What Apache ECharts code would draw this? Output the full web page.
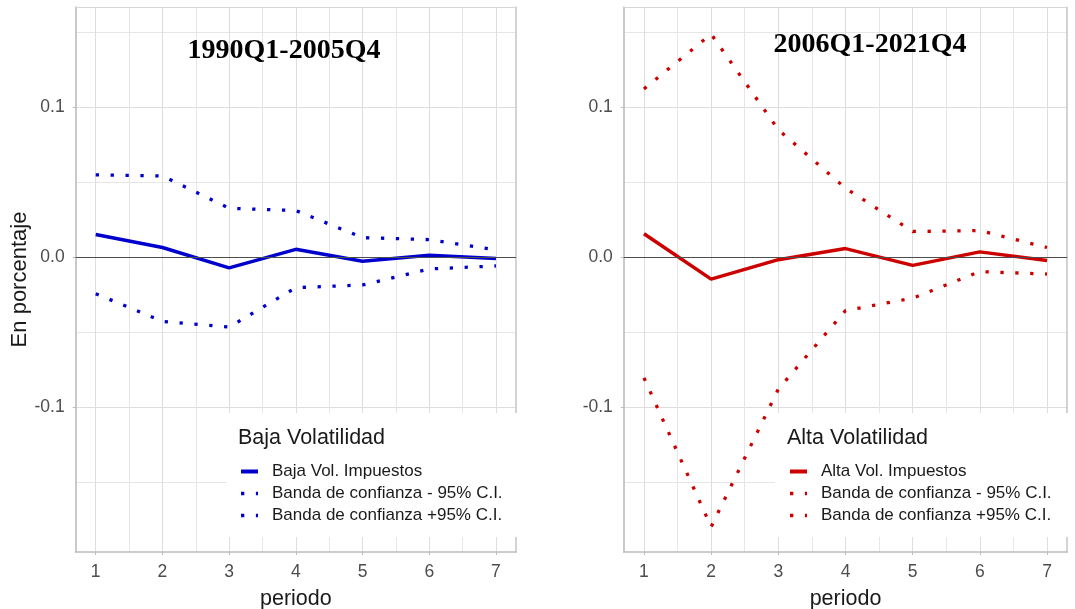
<!DOCTYPE html>
<html><head><meta charset="utf-8">
<script src="https://cdn.jsdelivr.net/npm/echarts@6/dist/echarts.min.js"></script>
<style>html,body{margin:0;padding:0;background:#fff}#c{width:1075px;height:609px}</style>
</head><body><div id="c"></div>
<script>
const periods = [1, 2, 3, 4, 5, 6, 7];
const bajaImp  = [0.0152, 0.0065, -0.0071, 0.0053, -0.0027, 0.0013, -0.0009];
const bajaLow  = [-0.0243, -0.0428, -0.0466, -0.0203, -0.0185, -0.0078, -0.0058];
const bajaHigh = [0.0550, 0.0543, 0.0327, 0.0312, 0.0131, 0.0118, 0.0050];
const altaImp  = [0.0157, -0.0146, -0.0016, 0.0058, -0.0054, 0.0036, -0.0022];
const altaLow  = [-0.0805, -0.1800, -0.0881, -0.0356, -0.0273, -0.0096, -0.0112];
const altaHigh = [0.1124, 0.1490, 0.0852, 0.0461, 0.0172, 0.0178, 0.0065];
const xTicks = [1, 2, 3, 4, 5, 6, 7];
const xMinorTicks = [1.5, 2.5, 3.5, 4.5, 5.5, 6.5];
const yTicks = [-0.1, 0, 0.1];
const yMinorTicks = [-0.15, -0.05, 0.05, 0.15];
const panelTitles = ['1990Q1-2005Q4', '2006Q1-2021Q4'];
const legendTitles = ['Baja Volatilidad', 'Alta Volatilidad'];
const namesBaja = ['Baja Vol. Impuestos', 'Banda de confianza - 95% C.I.', 'Banda de confianza +95% C.I.'];
const namesAlta = ['Alta Vol. Impuestos', 'Banda de confianza - 95% C.I.', 'Banda de confianza +95% C.I.'];
const xLabel = 'periodo';
const yLabel = 'En porcentaje';

const BLUE = '#0000CD', RED = '#CD0000';
const FONT = 'Liberation Sans';
const X_MIN = 0.7, X_MAX = 7.3, Y_MIN = -0.1968, Y_MAX = 0.1671;
const DOT = [3.3, 11.6];
// invisible suffix keeps the legend entries of the two panels apart
const ZW = '\u200b';
const seriesNamesAlta = namesAlta.map(n => n + ZW);

const grids = [
  {left: 75.7, top: 7, width: 440.3, height: 545, containLabel: false, outerBoundsMode: 'none'},
  {left: 623.8, top: 7, width: 443.4, height: 545, containLabel: false, outerBoundsMode: 'none'}
];

function mainX(gi) {
  return {
    type: 'value', gridIndex: gi, min: X_MIN, max: X_MAX, position: 'bottom',
    name: xLabel, nameLocation: 'middle', nameGap: 36,
    nameTextStyle: {fontFamily: FONT, fontSize: 21.5, color: '#1a1a1a'},
    axisLine: {show: true, onZero: false, lineStyle: {color: '#bcbcbc', width: 1.6}},
    axisTick: {show: true, length: 3, customValues: xTicks, lineStyle: {color: '#bcbcbc', width: 1}},
    axisLabel: {show: true, customValues: xTicks, margin: 11, fontFamily: FONT, fontSize: 17.5, color: '#4d4d4d', formatter: v => String(v)},
    splitLine: {show: true, lineStyle: {color: '#dedede', width: 1}}
  };
}
function minorX(gi) {
  return {
    type: 'value', gridIndex: gi, min: X_MIN, max: X_MAX, position: 'top',
    axisLine: {show: true, onZero: false, lineStyle: {color: '#d6d6d6', width: 1}},
    axisTick: {show: false, customValues: xMinorTicks},
    axisLabel: {show: false, customValues: xMinorTicks},
    splitLine: {show: true, lineStyle: {color: '#e6e6e6', width: 1}}
  };
}
function mainY(gi, withName) {
  return {
    type: 'value', gridIndex: gi, min: Y_MIN, max: Y_MAX, position: 'left',
    name: withName ? yLabel : '', nameLocation: 'middle', nameGap: 41,
    nameTextStyle: {fontFamily: FONT, fontSize: 22, color: '#1a1a1a'},
    axisLine: {show: true, onZero: false, lineStyle: {color: '#bcbcbc', width: 1.6}},
    axisTick: {show: true, length: 3, customValues: yTicks, lineStyle: {color: '#bcbcbc', width: 1}},
    axisLabel: {show: true, customValues: yTicks, margin: 11, fontFamily: FONT, fontSize: 17.5, color: '#4d4d4d', formatter: v => v.toFixed(1)},
    splitLine: {show: true, lineStyle: {color: '#dedede', width: 1}}
  };
}
function minorY(gi) {
  return {
    type: 'value', gridIndex: gi, min: Y_MIN, max: Y_MAX, position: 'right',
    axisLine: {show: true, onZero: false, lineStyle: {color: '#c4c4c4', width: 1.5}},
    axisTick: {show: false, customValues: yMinorTicks},
    axisLabel: {show: false, customValues: yMinorTicks},
    splitLine: {show: true, lineStyle: {color: '#e6e6e6', width: 1}}
  };
}
function pairs(vals) { return periods.map((p, i) => [p, vals[i]]); }
function lineSeries(name, vals, color, dotted, axisIdx, withZero) {
  const s = {
    type: 'line', name: name, data: pairs(vals), xAxisIndex: axisIdx, yAxisIndex: axisIdx,
    symbol: 'none', showSymbol: false, smooth: false, silent: true, animation: false,
    z: dotted ? 3 : 4,
    lineStyle: {color: color, width: dotted ? 3.3 : 3.5, type: dotted ? DOT : 'solid', cap: 'butt'},
    itemStyle: {color: color}
  };
  if (withZero) {
    s.markLine = {
      silent: true, symbol: ['none', 'none'], animation: false,
      label: {show: false},
      lineStyle: {color: '#4d4d4d', width: 1.2, type: 'solid'},
      data: [{yAxis: 0}]
    };
  }
  return s;
}
function legendFor(names, color, left, padLeft, padRight) {
  return {
    orient: 'vertical', left: left, top: 413,
    padding: [50, padRight, 13, padLeft], backgroundColor: '#ffffff',
    itemWidth: 17, itemHeight: 14, itemGap: 5,
    selectedMode: false,
    textStyle: {fontFamily: FONT, fontSize: 17, color: '#1a1a1a', padding: [0, 0, 0, 9]},
    data: names.map((n, i) => ({
      name: n,
      itemStyle: {opacity: 0, borderWidth: 0},
      lineStyle: {width: i === 0 ? 4 : 3.3, color: color, type: i === 0 ? 'solid' : DOT, cap: 'butt'}
    })),
  };
}

const option = {
  backgroundColor: '#ffffff',
  animation: false,
  grid: grids,
  xAxis: [mainX(0), minorX(0), mainX(1), minorX(1)],
  yAxis: [mainY(0, true), minorY(0), mainY(1, false), minorY(1)],
  title: [
    {text: panelTitles[0], left: 284, top: 37, textAlign: 'center', padding: 0,
     textStyle: {fontFamily: 'Liberation Serif', fontWeight: 'bold', fontSize: 28, color: '#000'}},
    {text: panelTitles[1], left: 870, top: 31, textAlign: 'center', padding: 0,
     textStyle: {fontFamily: 'Liberation Serif', fontWeight: 'bold', fontSize: 28, color: '#000'}},
    {text: legendTitles[0], left: 238, top: 427, padding: 0, z: 10,
     textStyle: {fontFamily: FONT, fontWeight: 'normal', fontSize: 21.5, color: '#1a1a1a'}},
    {text: legendTitles[1], left: 787, top: 427, padding: 0, z: 10,
     textStyle: {fontFamily: FONT, fontWeight: 'normal', fontSize: 21.5, color: '#1a1a1a'}}
  ],
  legend: [
    legendFor(namesBaja, BLUE, 227, 12, 16),
    legendFor(seriesNamesAlta, RED, 775, 13, 18)
  ],
  series: [
    lineSeries(namesBaja[1], bajaLow, BLUE, true, 0, true),
    lineSeries(namesBaja[2], bajaHigh, BLUE, true, 0, false),
    lineSeries(namesBaja[0], bajaImp, BLUE, false, 0, false),
    lineSeries(seriesNamesAlta[1], altaLow, RED, true, 2, true),
    lineSeries(seriesNamesAlta[2], altaHigh, RED, true, 2, false),
    lineSeries(seriesNamesAlta[0], altaImp, RED, false, 2, false)
  ]
};
const chart = echarts.init(document.getElementById('c'), null, {renderer: 'canvas'});
chart.setOption(option);
</script>
</body></html>
